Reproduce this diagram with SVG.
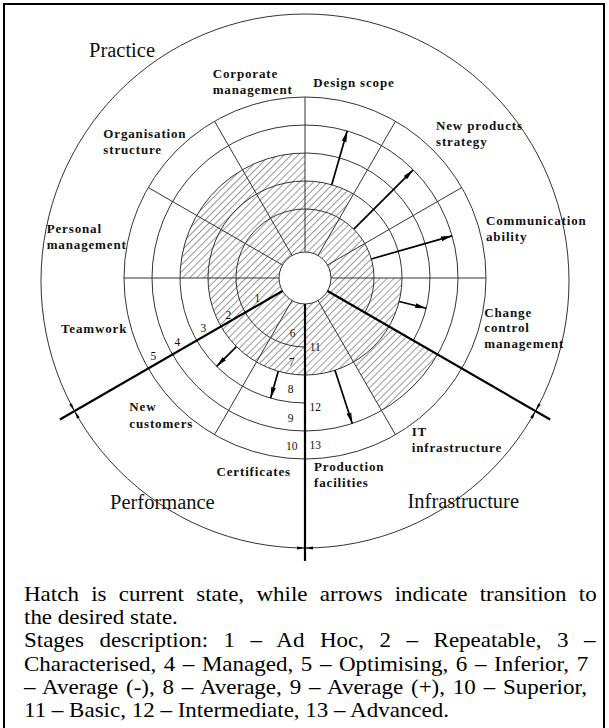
<svg xmlns="http://www.w3.org/2000/svg" width="609" height="728" viewBox="0 0 609 728">
<style>
.thin{fill:none;stroke:#333;stroke-width:1}
.thick{fill:none;stroke:#000;stroke-width:2.2}
.arr{fill:none;stroke:#000;stroke-width:1.7}
.lbl{font-family:"Liberation Serif","Times New Roman",serif;font-weight:bold;font-size:13px;letter-spacing:0.85px;fill:#111}
.sec{font-family:"Liberation Serif","Times New Roman",serif;font-size:20.5px;fill:#111}
.num{font-family:"Liberation Serif","Times New Roman",serif;font-size:11.5px;fill:#111;text-anchor:middle}
.cap{font-family:"Liberation Serif","Times New Roman",serif;font-size:21px;fill:#000}
</style>
<defs>
<pattern id="hatch" width="5" height="5" patternUnits="userSpaceOnUse" patternTransform="rotate(45)">
<line x1="0" y1="0" x2="0" y2="5" stroke="#333" stroke-width="1"/>
</pattern>
<marker id="ah" markerWidth="12" markerHeight="6" refX="11" refY="3" orient="auto" markerUnits="userSpaceOnUse">
<path d="M0,0.6 L11,3 L0,5.4 Z" fill="#000"/>
</marker>
</defs>
<rect x="4" y="4" width="600" height="740" fill="none" stroke="#000" stroke-width="2"/>
<g id="hatching" fill="url(#hatch)" stroke="none">
<path d="M305,278 L305,153 A125,125 0 0 0 180,278 Z"/>
<path d="M305,278 L208,278 A97,97 0 0 0 353.5,362 Z"/>
<path d="M305,278 L389,326.5 A97,97 0 0 0 402,278 Z"/>
<path d="M305,278 L353.5,194 A97,97 0 0 0 305,181 Z"/>
<path d="M305,278 L374,278 A69,69 0 0 0 339.5,218.24 Z"/>
<path d="M305,278 L381.5,410.5 A153,153 0 0 0 437.5,354.5 Z"/>
</g>
<g id="rings">
<ellipse class="thin" cx="305" cy="281" rx="264" ry="267"/>
<path class="thin" d="M364.76,312.5 A69,69 0 1 0 305,347"/>
<circle class="thin" cx="305" cy="278" r="97"/>
<path class="thin" d="M413.25,340.5 A125,125 0 1 0 305,403"/>
<circle class="thin" cx="305" cy="278" r="153"/>
<circle class="thin" cx="305" cy="278" r="181"/>
<circle cx="305" cy="278" r="26" fill="#fff" stroke="#333" stroke-width="1"/>
</g>
<g id="spokes" class="thin">
<line x1="331" y1="278" x2="486" y2="278"/>
<line x1="327.52" y1="265" x2="461.75" y2="187.5"/>
<line x1="318" y1="255.48" x2="395.5" y2="121.25"/>
<line x1="305" y1="252" x2="305" y2="97"/>
<line x1="292" y1="255.48" x2="214.5" y2="121.25"/>
<line x1="282.48" y1="265" x2="148.25" y2="187.5"/>
<line x1="279" y1="278" x2="124" y2="278"/>
<line x1="292" y1="300.52" x2="214.5" y2="434.75"/>
<line x1="318" y1="300.52" x2="395.5" y2="434.75"/>
</g>
<g id="dividers" class="thick">
<line x1="282.48" y1="291" x2="59.9" y2="419.5"/>
<line x1="305" y1="304" x2="305" y2="561"/>
<line x1="327.52" y1="291" x2="550.1" y2="419.5"/>
</g>
<g id="boundary-marks" fill="#000">
<path d="M74.5,411.1 L77.12,418.81 L79.74,417.33 Z"/>
<path d="M74.5,411.1 L69.26,404.87 L71.88,403.39 Z"/>
<path d="M535.5,411.1 L532.88,418.81 L530.26,417.33 Z"/>
<path d="M535.5,411.1 L540.74,404.87 L538.12,403.39 Z"/>
<path d="M305,548 L297,546.5 L297,549.5 Z"/>
<path d="M305,548 L313,546.5 L313,549.5 Z"/>
</g>
<g id="connectors" class="arr" marker-end="url(#ah)">
<line x1="331.73" y1="184.75" x2="347.17" y2="130.92"/>
<line x1="353.79" y1="229.21" x2="413.19" y2="169.81"/>
<line x1="371.33" y1="258.98" x2="452.08" y2="235.83"/>
<line x1="399.12" y1="301.47" x2="426.29" y2="308.24"/>
<line x1="334.97" y1="370.26" x2="352.28" y2="423.52"/>
<line x1="278.27" y1="371.25" x2="270.55" y2="398.16"/>
<line x1="236.41" y1="346.59" x2="216.61" y2="366.39"/>
</g>
<g id="sector-labels" class="sec">
<text x="89" y="57">Practice</text>
<text x="110" y="509">Performance</text>
<text x="407.5" y="508">Infrastructure</text>
</g>
<g id="indicator-labels" class="lbl">
<g id="corporate-management"><text x="212.7" y="77.5">Corporate</text><text x="212.7" y="93.5">management</text></g>
<g id="design-scope"><text x="313.3" y="87">Design scope</text></g>
<g id="organisation-structure"><text x="103.3" y="137.5">Organisation</text><text x="103.3" y="153.5">structure</text></g>
<g id="personal-management"><text x="46.7" y="232.5">Personal</text><text x="46.7" y="248.5">management</text></g>
<g id="new-products-strategy"><text x="436" y="130">New products</text><text x="436" y="146">strategy</text></g>
<g id="communication-ability"><text x="486" y="224.5">Communication</text><text x="486" y="240.5">ability</text></g>
<g id="change-control-management"><text x="484.3" y="316.5">Change</text><text x="484.3" y="332">control</text><text x="484.3" y="347.5">management</text></g>
<g id="teamwork"><text x="61" y="332.5">Teamwork</text></g>
<g id="new-customers"><text x="129.3" y="411">New</text><text x="129.3" y="428">customers</text></g>
<g id="certificates"><text x="216.5" y="476">Certificates</text></g>
<g id="production-facilities"><text x="314" y="471">Production</text><text x="314" y="487">facilities</text></g>
<g id="it-infrastructure"><text x="411.7" y="436">IT</text><text x="411.7" y="452">infrastructure</text></g>
</g>
<g id="stage-numbers" class="num">
<text x="257.3" y="302.3">1</text>
<text x="228.3" y="319">2</text>
<text x="203.3" y="332.3">3</text>
<text x="177.3" y="345.7">4</text>
<text x="153.3" y="360">5</text>
<text x="292.7" y="336.7">6</text>
<text x="291.7" y="365.7">7</text>
<text x="290.7" y="393.3">8</text>
<text x="290.7" y="421.7">9</text>
<text x="291.7" y="449.7">10</text>
<text x="315.3" y="350.7">11</text>
<text x="315.3" y="411.3">12</text>
<text x="315.3" y="449">13</text>
</g>
<g id="caption" class="cap" transform="scale(1.0952,1)">
<text x="21.91" y="601" word-spacing="5.98">Hatch is current state, while arrows indicate transition to</text>
<text x="21.91" y="624.2">the desired state.</text>
<text x="21.91" y="647.4" word-spacing="8.92">Stages description: 1 – Ad Hoc, 2 – Repeatable, 3 –</text>
<text x="21.91" y="670.6" word-spacing="1.69">Characterised, 4 – Managed, 5 – Optimising, 6 – Inferior, 7</text>
<text x="21.91" y="693.8" word-spacing="1.89">– Average (-), 8 – Average, 9 – Average (+), 10 – Superior,</text>
<text x="21.91" y="717">11 – Basic, 12 – Intermediate, 13 – Advanced.</text>
</g>
</svg>
